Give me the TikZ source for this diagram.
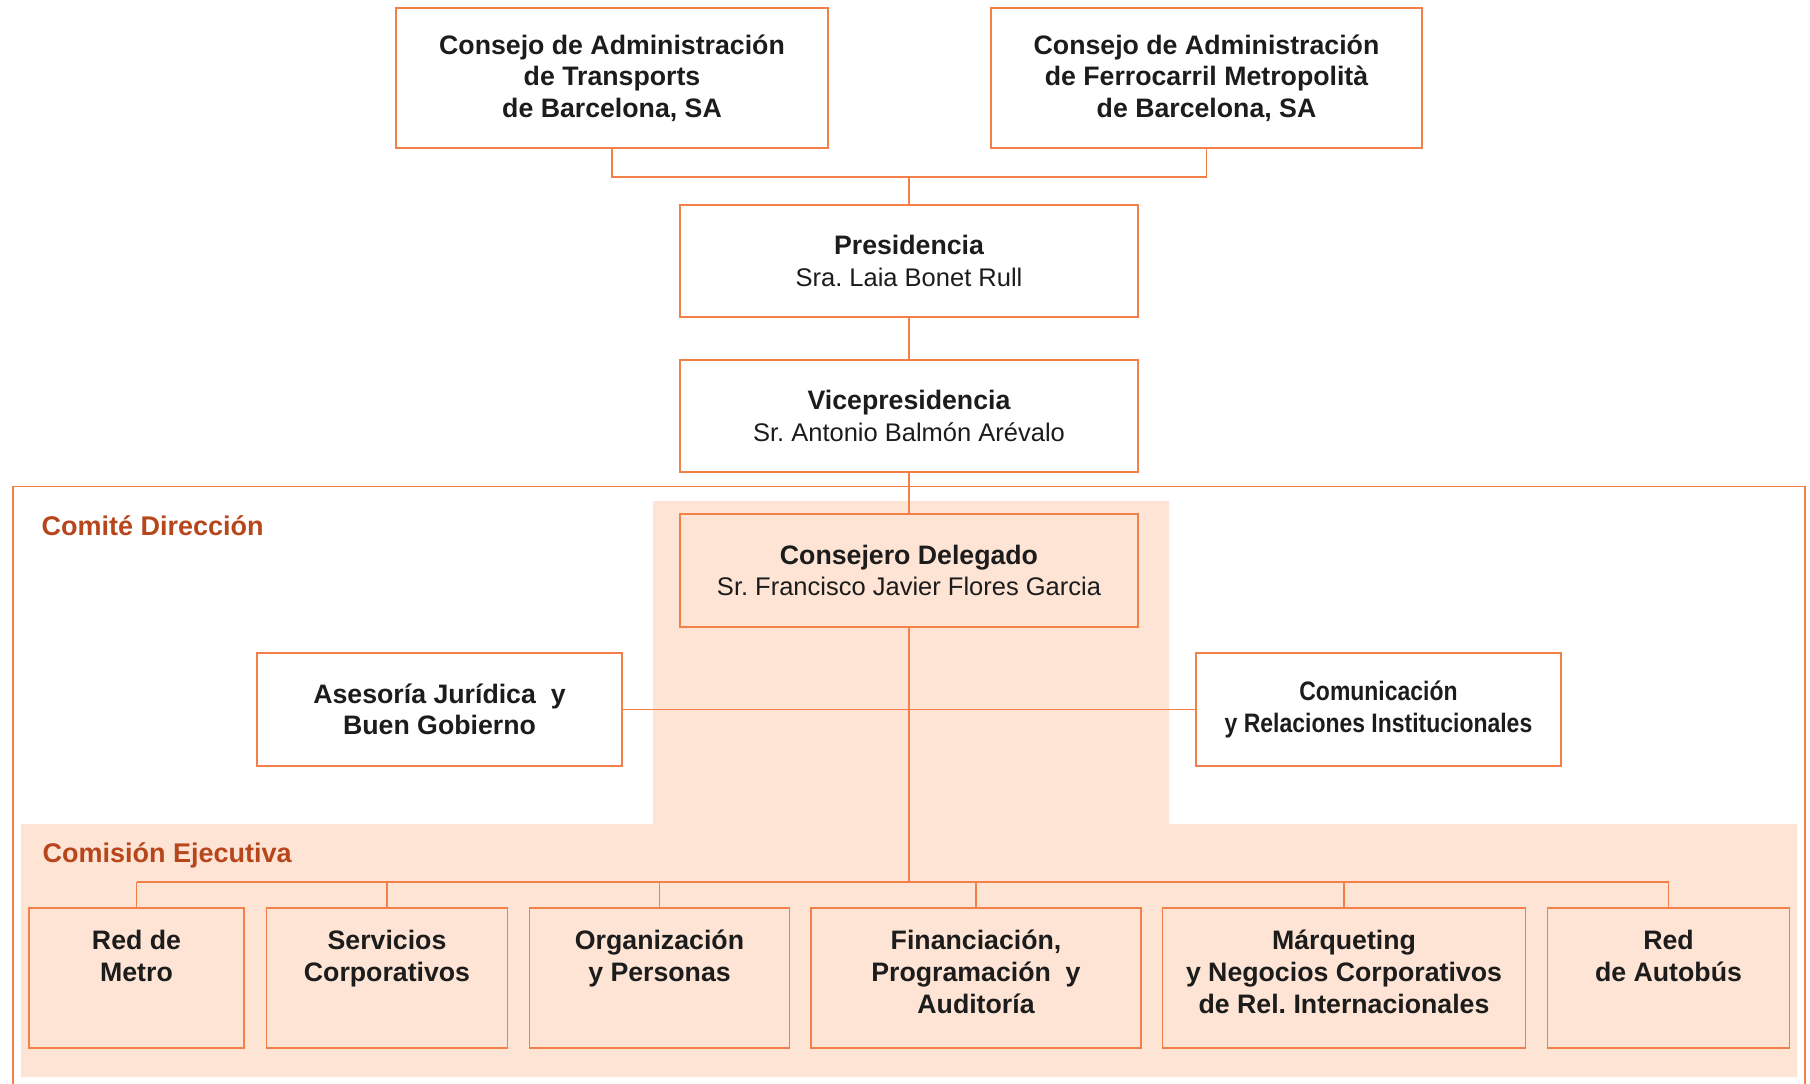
\documentclass[tikz,border=0pt]{standalone}
\usepackage{fontspec}
\usepackage{graphicx}
\setmainfont{Liberation Sans}
\frenchspacing
\definecolor{ln}{RGB}{242,128,72}
\definecolor{pk}{RGB}{253,228,212}
\definecolor{lab}{RGB}{184,70,28}
\definecolor{tx}{RGB}{28,28,28}
\tikzset{
  orgbox/.style={draw=ln, line width=1.6pt, rectangle, inner sep=0pt, align=center, text=tx,
    font=\fontsize{26.7}{31.5}\selectfont\bfseries},
  whitebox/.style={orgbox, fill=white},
  pinkbox/.style={orgbox, fill=pk},
  lowbox/.style={draw=ln, line width=1.6pt, rectangle, inner sep=0pt, fill=pk, text=tx,
    minimum height=140pt, font=\fontsize{26.7}{32}\selectfont\bfseries},
  conn/.style={draw=ln, line width=1.6pt},
  grouplabel/.style={text=lab, font=\fontsize{27}{31.5}\selectfont\bfseries, anchor=base west, inner sep=0pt},
}
\newcommand{\nm}[1]{{\fontsize{25.5}{31.5}\selectfont\mdseries #1}}
\newcommand{\lowtext}[2]{\begin{minipage}[t][140pt][t]{#1}\centering\rule{0pt}{41.5pt}#2\end{minipage}}
\newcommand{\narrow}[1]{\scalebox{0.86}[1]{#1}}
\begin{document}
\begin{tikzpicture}[x=1pt,y=-1pt]
\useasboundingbox[fill=white] (0,0) rectangle (1810,1084);
% pink regions
\fill[pk] (653,501) -- (1169,501) -- (1169,824) -- (1797,824) -- (1797,1077)
  -- (21,1077) -- (21,824) -- (653,824) -- cycle;
% outer Comite frame
\draw[conn] (12.7,1095) -- (12.7,486.3) -- (1805,486.3) -- (1805,1095);
% labels
\node[grouplabel] (lcd) at (41.5,535) {Comité Dirección};
\node[grouplabel] (lce) at (42.5,862) {Comisión Ejecutiva};
% top boxes
\node[whitebox, minimum width=432pt, minimum height=140pt] (tmb) at (612,78)
  {Consejo de Administración\\de Transports\\de Barcelona, SA};
\node[whitebox, minimum width=431pt, minimum height=140pt] (fmb) at (1206.5,78)
  {Consejo de Administración\\de Ferrocarril Metropolità\\de Barcelona, SA};
\node[whitebox, minimum width=458pt, minimum height=112pt] (pres) at (909,261)
  {Presidencia\\\nm{Sra. Laia Bonet Rull}};
\node[whitebox, minimum width=458pt, minimum height=112pt] (vice) at (909,416)
  {Vicepresidencia\\\nm{Sr. Antonio Balmón Arévalo}};
\node[pinkbox, minimum width=458pt, minimum height=113pt] (cd) at (909,570.5)
  {Consejero Delegado\\\nm{Sr. Francisco Javier Flores Garcia}};
\node[whitebox, minimum width=365pt, minimum height=113pt] (ases) at (439.5,709.5)
  {Asesoría Jurídica~ y\\Buen Gobierno};
\node[whitebox, minimum width=365pt, minimum height=113pt] (comu) at (1378.5,709.5)
  {\narrow{Comunicación}\\\narrow{y Relaciones Institucionales}};
% bottom boxes
\node[lowbox, minimum width=215pt] (b1) at (136.5,978) {\lowtext{215pt}{Red de\\Metro}};
\node[lowbox, minimum width=241pt] (b2) at (387,978) {\lowtext{241pt}{Servicios\\Corporativos}};
\node[lowbox, minimum width=260pt] (b3) at (659.5,978) {\lowtext{260pt}{Organización\\y Personas}};
\node[lowbox, minimum width=330pt] (b4) at (976,978) {\lowtext{330pt}{Financiación,\\Programación~ y\\Auditoría}};
\node[lowbox, minimum width=363pt] (b5) at (1344,978) {\lowtext{363pt}{Márqueting\\y Negocios Corporativos\\de Rel. Internacionales}};
\node[lowbox, minimum width=242pt] (b6) at (1668.5,978) {\lowtext{242pt}{Red\\de Autobús}};
% connectors
\coordinate (j1) at (909,177);
\coordinate (bus) at (909,882);
\draw[conn] (tmb.south) |- (j1) -| (fmb.south);
\draw[conn] (j1) -- (pres.north);
\draw[conn] (pres.south) -- (vice.north);
\draw[conn] (vice.south) -- (cd.north);
\draw[conn] (cd.south) -- (bus);
\draw[conn] (ases.east) -- (comu.west);
\draw[conn] (b1.north |- bus) -- (b6.north |- bus);
\foreach \b in {b1,b2,b3,b4,b5,b6} \draw[conn] (\b.north) -- (\b.north |- bus);
\end{tikzpicture}
\end{document}
